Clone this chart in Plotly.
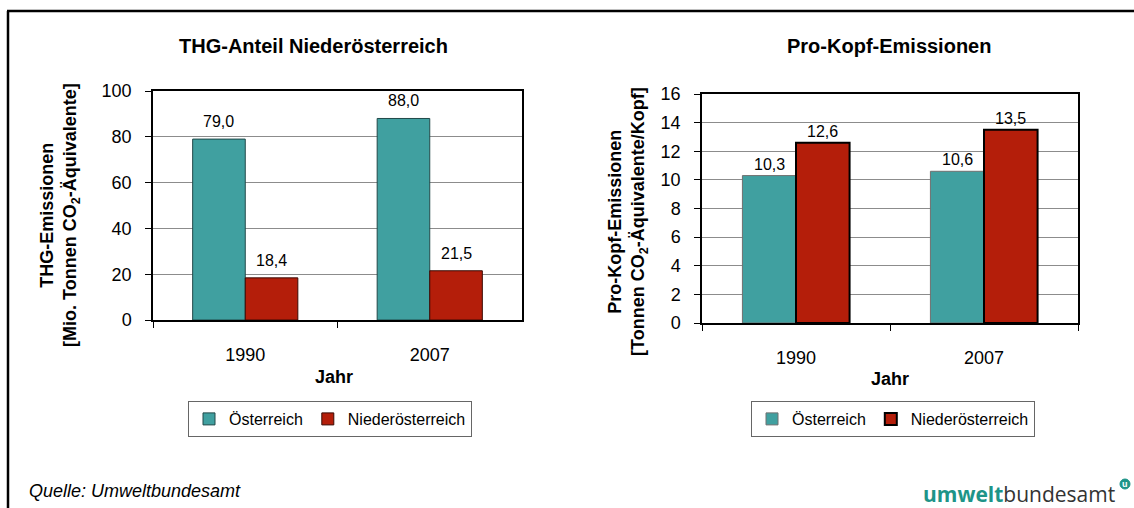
import plotly.graph_objects as go

years = ["1990", "2007"]
series_names = ["Österreich", "Niederösterreich"]
thg_at = [79.0, 88.0]
thg_noe = [18.4, 21.5]
pk_at = [10.3, 10.6]
pk_noe = [12.6, 13.5]

TEAL = "#40A0A0"
RED = "#B41E0A"
FONT = "Arial, Liberation Sans, sans-serif"
W, H = 1134, 508

def fmt(v):
    return f"{v:.1f}".replace(".", ",")

fig = go.Figure()

fig.add_bar(x=years, y=thg_at, name=series_names[0], marker=dict(color=TEAL, line=dict(color="#204848", width=1)),
            xaxis="x", yaxis="y", legend="legend")
fig.add_bar(x=years, y=thg_noe, name=series_names[1], marker=dict(color=RED, line=dict(color="#3a0a04", width=1)),
            xaxis="x", yaxis="y", legend="legend")
fig.add_bar(x=years, y=pk_at, name=series_names[0], marker=dict(color=TEAL, line=dict(color="#707070", width=1)),
            xaxis="x2", yaxis="y2", legend="legend2")
fig.add_bar(x=years, y=pk_noe, name=series_names[1], marker=dict(color=RED, line=dict(color="#000000", width=2)),
            xaxis="x2", yaxis="y2", legend="legend2")

BARGAP = 0.43
half = (1 - BARGAP) / 4

annotations = []
for xa, ya, groups, shift in [("x", "y", [thg_at, thg_noe], 7), ("x2", "y2", [pk_at, pk_noe], 1)]:
    for j, vals in enumerate(groups):
        for i, v in enumerate(vals):
            annotations.append(dict(x=i + (2 * j - 1) * half, y=v, xref=xa, yref=ya, text=fmt(v),
                                    showarrow=False, yanchor="bottom", yshift=shift,
                                    font=dict(size=16, color="black", family=FONT)))

def px_x(p):
    return p / W

def px_y(p):
    return (H - p) / H

def note(x, y, text, size, xanchor="center", angle=0, family=FONT, color="black"):
    return dict(x=px_x(x), y=px_y(y), xref="paper", yref="paper", text=text, showarrow=False,
                xanchor=xanchor, yanchor="middle", textangle=angle,
                font=dict(size=size, color=color, family=family))

annotations += [
    note(313, 46, "<b>THG-Anteil Niederösterreich</b>", 20),
    note(889, 46, "<b>Pro-Kopf-Emissionen</b>", 20),
    note(60, 215, "<b>THG-Emissionen<br>[Mio. Tonnen CO<sub>2</sub>-Äquivalente]</b>", 18, angle=-90),
    note(628, 222, "<b>Pro-Kopf-Emissionen<br>[Tonnen CO<sub>2</sub>-Äquivalente/Kopf]</b>", 18, angle=-90),
    note(334, 377, "<b>Jahr</b>", 18),
    note(890, 379, "<b>Jahr</b>", 18),
    note(27, 491, "<i>Quelle: Umweltbundesamt</i>", 18, xanchor="left"),
    note(1117, 494, "<b><span style='color:#1E9488'>umwelt</span></b><span style='color:#333333'>bundesamt</span>",
         21, xanchor="right", family="Open Sans, sans-serif"),
    note(1125, 484, "<b>u</b>", 9, color="white"),
]

axis_common = dict(showline=True, linecolor="black", linewidth=1.5, mirror=True,
                   ticks="outside", ticklen=6, tickcolor="black", tickwidth=1,
                   automargin=False,
                   tickfont=dict(size=18, color="black", family=FONT))

legend_common = dict(xanchor="center", yanchor="middle", orientation="h",
                     bgcolor="white", bordercolor="#666666", borderwidth=1,
                     itemwidth=30, tracegroupgap=0,
                     font=dict(size=16, color="black", family=FONT))

fig.update_layout(
    template="none",
    width=W, height=H,
    margin=dict(l=0, r=0, t=0, b=0, pad=0, autoexpand=False),
    paper_bgcolor="white", plot_bgcolor="white",
    barmode="group", bargap=BARGAP, bargroupgap=0,
    font=dict(family=FONT, color="black"),
    xaxis=dict(domain=[px_x(153), px_x(522)], anchor="y", type="category", tickson="boundaries",
               ticklabelstandoff=18, showgrid=False, **axis_common),
    yaxis=dict(domain=[px_y(320), px_y(91)], anchor="x", range=[0, 100], dtick=20,
               showgrid=True, gridcolor="#8c8c8c", gridwidth=1, ticklabelstandoff=10,
               zeroline=False, **axis_common),
    xaxis2=dict(domain=[px_x(702), px_x(1078)], anchor="y2", type="category", tickson="boundaries",
                ticklabelstandoff=18, showgrid=False, **axis_common),
    yaxis2=dict(domain=[px_y(323), px_y(94)], anchor="x2", range=[0, 16], dtick=2,
                showgrid=True, gridcolor="#8c8c8c", gridwidth=1, ticklabelstandoff=10,
                zeroline=False, **axis_common),
    legend=dict(x=px_x(330), y=px_y(419), **legend_common),
    legend2=dict(x=px_x(893), y=px_y(419), **legend_common),
    annotations=annotations,
    shapes=[
        dict(type="line", xref="paper", yref="paper", x0=px_x(7), x1=1.0, y0=px_y(11), y1=px_y(11),
             line=dict(color="black", width=2.5)),
        dict(type="line", xref="paper", yref="paper", x0=px_x(8), x1=px_x(8), y0=0, y1=px_y(11),
             line=dict(color="black", width=2.5)),
        dict(type="circle", xref="paper", yref="paper", x0=px_x(1120), x1=px_x(1130),
             y0=px_y(489), y1=px_y(479), fillcolor="#1E9488", line=dict(color="#1E9488", width=1)),
    ],
)

fig.write_html("out.html", config={"displayModeBar": False},
               post_script="document.body.style.margin='0px';")
